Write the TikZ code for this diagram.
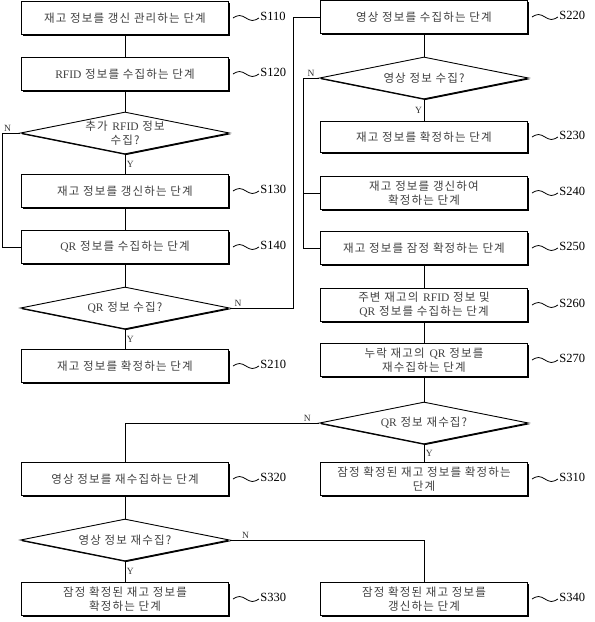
\documentclass[tikz,border=0pt]{standalone}
\usepackage{fontspec}
\setmainfont{Liberation Serif}
\newfontfamily\hangul[LetterSpace=10]{Noto Sans CJK KR}
\usetikzlibrary{shapes.geometric,shadows}
\newcommand\boxfont{\hangul\fontsize{11.5}{14}\selectfont}
\newcommand\steptag[2]{\draw[wire] ([xshift=4pt]#1.east) sin ++(6.5pt,2.5pt) cos ++(6.5pt,-2.5pt) sin ++(6.5pt,-2.5pt) cos ++(6.5pt,2.5pt) node[anchor=west, inner sep=1pt, yshift=2pt, font=\fontsize{12.5}{14}\selectfont] {#2};}
\begin{document}
\begin{tikzpicture}[x=1pt,y=-1pt,
    wire/.style={line width=0.8pt},
    box/.style={draw, fill=white, line width=0.9pt, minimum width=207pt, minimum height=33pt,
        inner sep=2pt, align=center, font=\boxfont, text=black!75,
        drop shadow={shadow xshift=1.2pt, shadow yshift=-1.2pt, fill=black, opacity=1}},
    decision/.style={diamond, draw, fill=white, line width=0.9pt, shape aspect=5, inner sep=0pt,
        minimum width=209pt, minimum height=42pt, align=center, font=\boxfont, text=black!75,
        drop shadow={shadow xshift=1.2pt, shadow yshift=-1.2pt, fill=black, opacity=1}},
    yn/.style={font=\fontsize{9.5}{11}\selectfont, text=black!80, inner sep=1.5pt}]
    \useasboundingbox (0,0) rectangle (595,622);
    % left column
    \node[box] (s110) at (125,18) {재고 정보를 갱신 관리하는 단계};
    \node[box] (s120) at (125,74) {\textrm{RFID} 정보를 수집하는 단계};
    \node[decision] (d1) at (125,133) {추가 \textrm{RFID} 정보\\수집?};
    \node[box] (s130) at (125,191) {재고 정보를 갱신하는 단계};
    \node[box] (s140) at (125,247) {\textrm{QR} 정보를 수집하는 단계};
    \node[decision] (d2) at (125,308) {\textrm{QR} 정보 수집?};
    \node[box] (s210) at (125,366) {재고 정보를 확정하는 단계};
    % right column
    \node[box] (s220) at (424,17) {영상 정보를 수집하는 단계};
    \node[decision] (d3) at (424,78) {영상 정보 수집?};
    \node[box, minimum height=31pt] (s230) at (424,137) {재고 정보를 확정하는 단계};
    \node[box] (s240) at (424,193) {재고 정보를 갱신하여\\확정하는 단계};
    \node[box] (s250) at (424,248) {재고 정보를 잠정 확정하는 단계};
    \node[box] (s260) at (424,305) {주변 재고의 \textrm{RFID} 정보 및\\\textrm{QR} 정보를 수집하는 단계};
    \node[box] (s270) at (424,360) {누락 재고의 \textrm{QR} 정보를\\재수집하는 단계};
    \node[decision] (d4) at (424,423) {\textrm{QR} 정보 재수집?};
    \node[box] (s310) at (424,479) {잠정 확정된 재고 정보를 확정하는\\단계};
    % bottom
    \node[box] (s320) at (125,479) {영상 정보를 재수집하는 단계};
    \node[decision] (d5) at (125,540) {영상 정보 재수집?};
    \node[box] (s330) at (125,599) {잠정 확정된 재고 정보를\\확정하는 단계};
    \node[box] (s340) at (424,599) {잠정 확정된 재고 정보를\\갱신하는 단계};
    % connectors
    \draw[wire] (s110) -- (s120);
    \draw[wire] (s120) -- (d1);
    \draw[wire] (d1) -- (s130) node[yn, midway, right] {Y};
    \draw[wire] (d1.west) -- ++(-18pt,0) node[yn, pos=.7, above] {N} |- (s140.west);
    \draw[wire] (s130) -- (s140);
    \draw[wire] (s140) -- (d2);
    \draw[wire] (d2) -- (s210) node[yn, midway, right] {Y};
    \draw[wire] (d2.east) -- ++(63pt,0) node[yn, pos=.13, above] {N} |- (s220.west);
    \draw[wire] (s220) -- (d3);
    \draw[wire] (d3) -- (s230) node[yn, midway, left] {Y};
    \draw[wire] (d3.west) -- ++(-16pt,0) coordinate (d3n) node[yn, pos=.5, above] {N} |- (s250.west);
    \draw[wire] (s240.west) -- (s240.west -| d3n);
    \draw[wire] (s250) -- (s260);
    \draw[wire] (s260) -- (s270);
    \draw[wire] (s270) -- (d4);
    \draw[wire] (d4) -- (s310) node[yn, midway, right] {Y};
    \draw[wire] (d4.west) -| (s320.north) node[yn, pos=.03, above] {N};
    \draw[wire] (s320) -- (d5);
    \draw[wire] (d5) -- (s330) node[yn, midway, right] {Y};
    \draw[wire] (d5.east) -| (s340.north) node[yn, pos=.04, above] {N};
    % step numbers
    \steptag{s110}{S110}
    \steptag{s120}{S120}
    \steptag{s130}{S130}
    \steptag{s140}{S140}
    \steptag{s210}{S210}
    \steptag{s220}{S220}
    \steptag{s230}{S230}
    \steptag{s240}{S240}
    \steptag{s250}{S250}
    \steptag{s260}{S260}
    \steptag{s270}{S270}
    \steptag{s310}{S310}
    \steptag{s320}{S320}
    \steptag{s330}{S330}
    \steptag{s340}{S340}
\end{tikzpicture}
\end{document}
